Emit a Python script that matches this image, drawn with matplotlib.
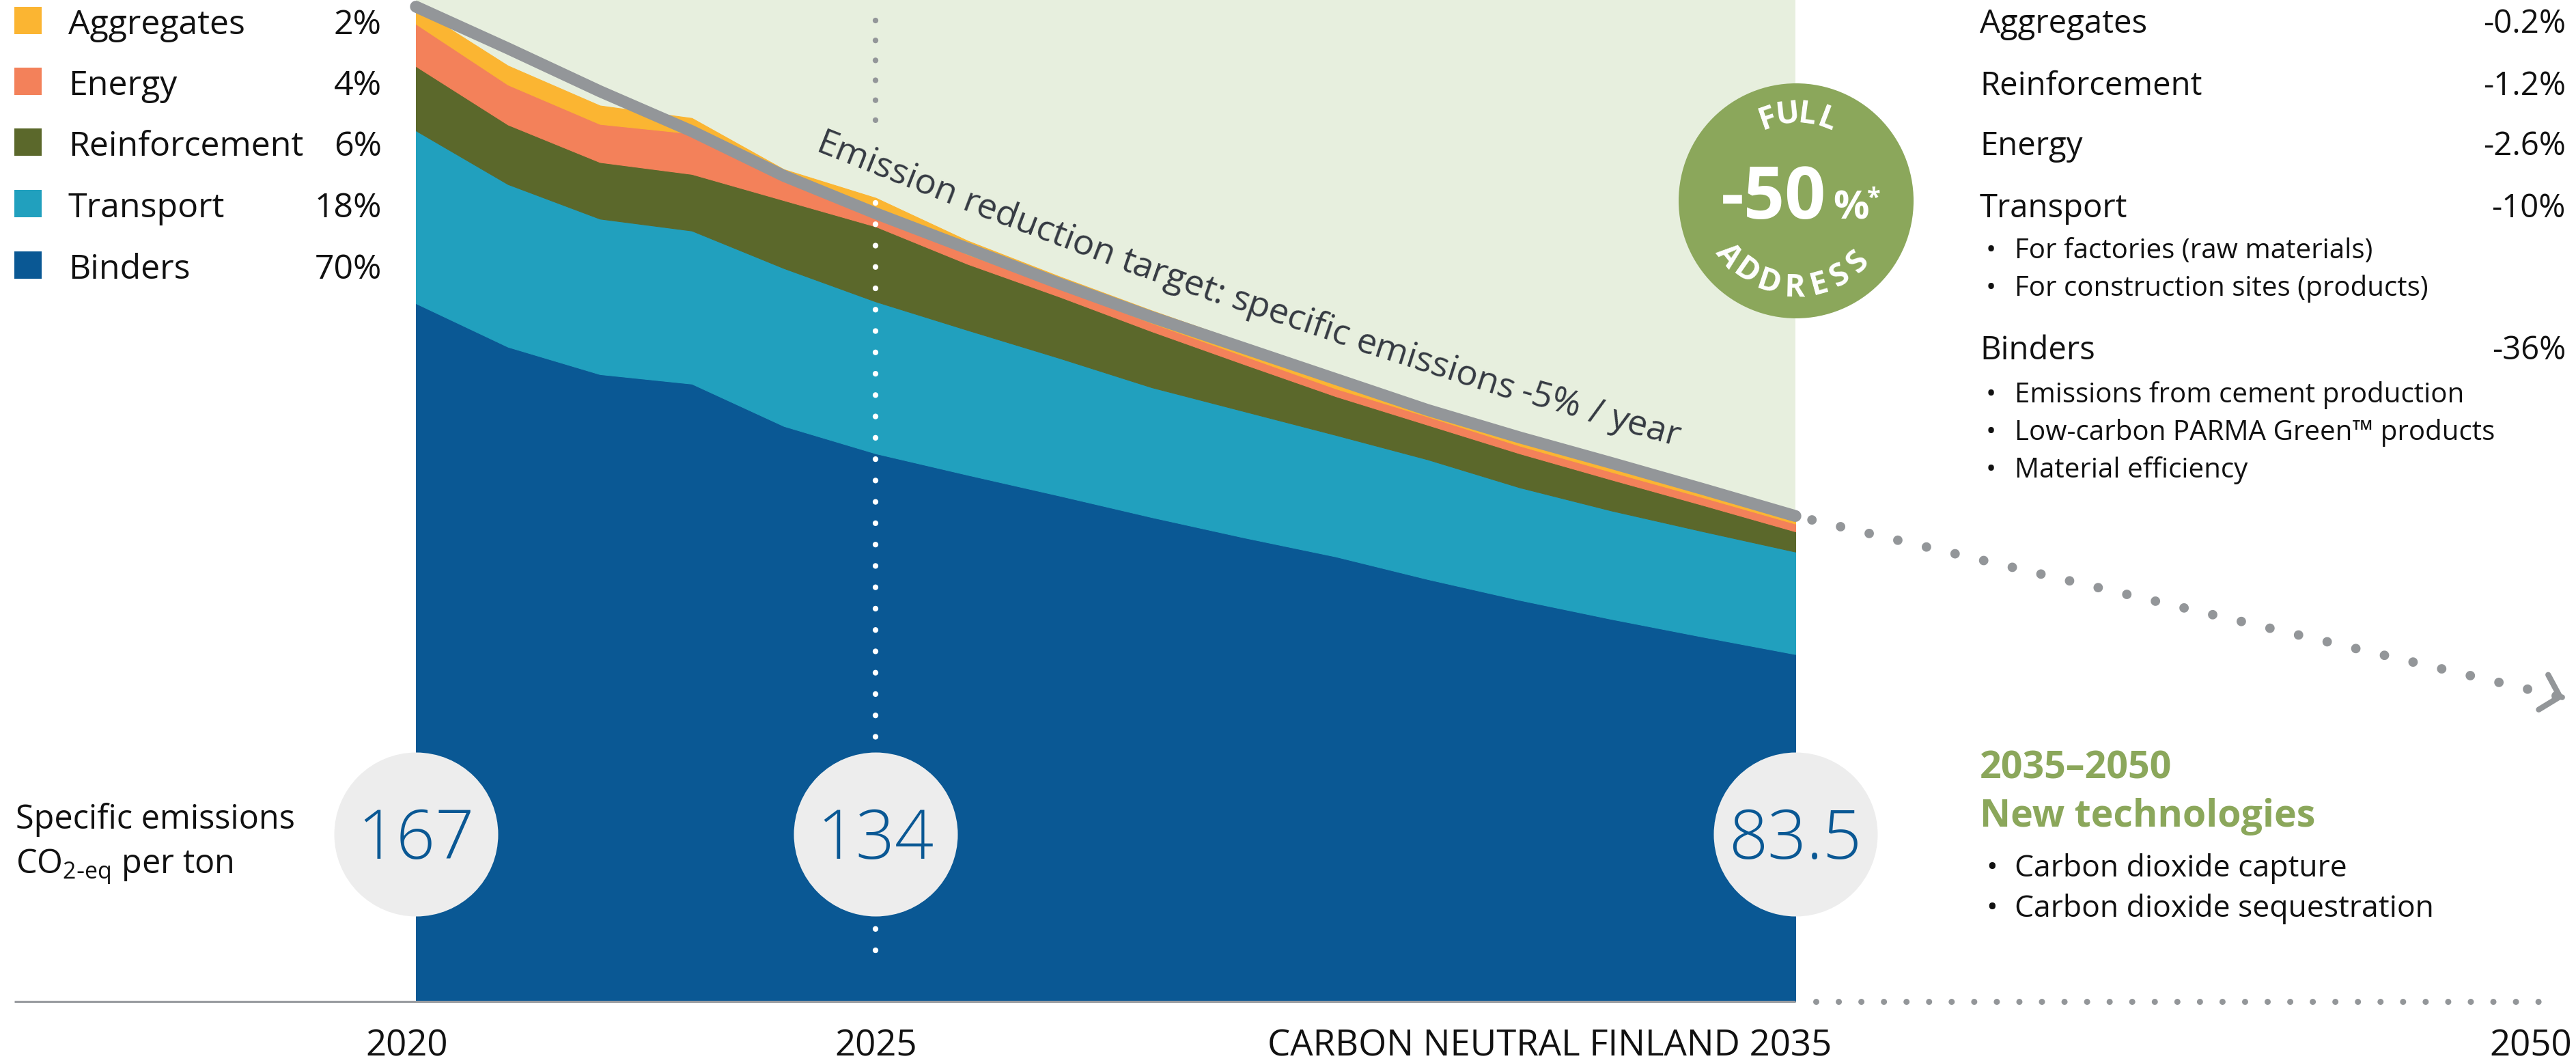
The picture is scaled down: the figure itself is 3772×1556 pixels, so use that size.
import numpy as np
import matplotlib
matplotlib.use("Agg")
import matplotlib.pyplot as plt
from matplotlib.patches import Circle, Rectangle
from matplotlib.transforms import IdentityTransform, blended_transform_factory

plt.rcParams["font.family"] = ["Open Sans", "DejaVu Sans"]

# ---------------- data ----------------
years = [2020, 2021, 2022, 2023, 2024, 2025, 2026, 2027,
         2028, 2029, 2030, 2031, 2032, 2033, 2034, 2035]
binders = [117.2, 109.9, 105.3, 103.7, 96.6, 92.0, 88.4, 84.9,
           81.3, 77.9, 74.7, 70.9, 67.4, 64.2, 61.2, 58.3]
transport = [29.0, 27.3, 26.1, 25.7, 26.5, 25.5, 24.3, 23.1,
             21.8, 21.2, 20.4, 20.1, 18.9, 18.2, 17.7, 17.2]
reinforcement = [10.8, 10.0, 9.5, 9.5, 11.4, 12.6, 11.1, 10.3,
                 9.4, 7.9, 6.5, 5.8, 5.7, 5.2, 4.4, 3.4]
energy = [7.1, 6.7, 6.4, 6.8, 3.7, 2.3, 1.6, 1.5,
          1.4, 1.4, 1.3, 1.4, 1.3, 1.3, 1.3, 1.3]
aggregates = [2.8, 3.2, 3.1, 2.6, 1.5, 2.5, 2.3, 1.9,
              2.1, 2.2, 2.4, 1.8, 1.8, 1.7, 1.7, 1.7]
target = [167.0, 160.0, 152.8, 146.1, 138.6, 132.3, 126.4, 120.5,
          114.9, 109.7, 104.5, 99.3, 94.7, 90.4, 86.0, 81.5]

ext_years = [2035, 2050]
ext_target = [81.5, 51.0]

milestone_years = [2020, 2025, 2035]
milestone_labels = ["167", "134", "83.5"]

legend_names = ["Aggregates", "Energy", "Reinforcement", "Transport", "Binders"]
legend_shares = ["2%", "4%", "6%", "18%", "70%"]

reduction_names = ["Aggregates", "Reinforcement", "Energy", "Transport", "Binders"]
reduction_values = ["-0.2%", "-1.2%", "-2.6%", "-10%", "-36%"]
transport_bullets = ["For factories (raw materials)",
                     "For construction sites (products)"]
binder_bullets = ["Emissions from cement production",
                  "Low-carbon PARMA Green\u2122 products",
                  "Material efficiency"]
tech_bullets = ["Carbon dioxide capture", "Carbon dioxide sequestration"]

target_label = "Emission reduction target: specific emissions -5% / year"

# ---------------- style ----------------
C_BIND = "#0A5894"
C_TRANS = "#21A0BE"
C_REINF = "#5B682B"
C_ENERGY = "#F3815A"
C_AGG = "#FBB532"
C_LINE = "#939699"
C_BG = "#E7EFDE"
C_BADGE = "#8BA75B"
C_DISC = "#EDEDED"
C_TEXT = "#111111"

W, H = 3773, 1556
BASE = 1466          # pixel row of the zero line
PPU = 8.72           # pixels per t CO2 unit

fig = plt.figure(figsize=(W / 100, H / 100), dpi=100)

ax = fig.add_axes([609 / W, (H - BASE) / H, (2629 - 609) / W, BASE / H])
ax.set_xlim(2020, 2035)
ax.set_ylim(0, BASE / PPU)
ax.set_facecolor(C_BG)
for s in ax.spines.values():
    s.set_visible(False)
ax.set_xticks([])
ax.set_yticks([])

ax_ext = fig.add_axes([2629 / W, (H - BASE) / H, (3754 - 2629) / W, BASE / H])
ax_ext.set_xlim(2035, 2050)
ax_ext.set_ylim(0, BASE / PPU)
ax_ext.axis("off")

ov = fig.add_axes([0, 0, 1, 1])
ov.set_xlim(0, W)
ov.set_ylim(H, 0)
ov.axis("off")

# stacked areas
layer_colors = [C_BIND, C_TRANS, C_REINF, C_ENERGY, C_AGG]
polys = ax.stackplot(years, binders, transport, reinforcement, energy, aggregates,
                     colors=layer_colors, zorder=2)
for p, c in zip(polys, layer_colors):
    p.set_edgecolor(c)
    p.set_linewidth(0.8)

# dotted marker at 2025
ax.plot([2025, 2025], [164.7, 144.9], color=C_LINE, lw=6,
        linestyle=(0, (0.001, 3.5)), dash_capstyle="round", zorder=3, clip_on=False)
ax.plot([2025, 2025], [134.1, 6.0], color="white", lw=6,
        linestyle=(0, (0.001, 3.75)), dash_capstyle="round", zorder=3)

# target line
ax.plot(years, target, color=C_LINE, lw=12.5, solid_capstyle="round",
        zorder=5, clip_on=False)

# extension to 2050
ax_ext.plot(ext_years, ext_target, color=C_LINE, lw=10,
            linestyle=(1.31, (0.001, 3.1)), dash_capstyle="round", clip_on=False)
ax_ext.annotate("", xy=(ext_years[1], ext_target[1]),
                xytext=(ext_years[1] - 0.03, ext_target[1] + 0.07),
                arrowprops=dict(arrowstyle="->,head_length=0.9,head_width=0.95",
                                color=C_LINE, lw=6, mutation_scale=20,
                                shrinkA=0, shrinkB=0, capstyle="round",
                                joinstyle="round"),
                annotation_clip=False)
ax_ext.plot([2035.4, 2049.8], [0, 0], color=C_LINE, lw=6.5,
            linestyle=(0, (0.001, 3.66)), dash_capstyle="round", clip_on=False)

# solid zero line
ov.plot([21, 2629], [BASE, BASE], color="#9A9DA1", lw=2.3, solid_capstyle="butt")

# milestone discs
disc_y = (BASE - 1221) / PPU
ax.scatter(milestone_years, [disc_y] * len(milestone_years), s=(240 * 0.72) ** 2,
           color=C_DISC, linewidths=0, zorder=8, clip_on=False)
for yr, lab in zip(milestone_years, milestone_labels):
    ax.annotate(lab, (yr, disc_y), xytext=(0, -26), textcoords="offset points",
                ha="center", va="baseline", fontsize=72, fontweight="light",
                color=C_BIND, zorder=9, annotation_clip=False)

# year labels
yrtrans = blended_transform_factory(ax.transData, ov.transData)
ax.text(2019.9, 1545, "2020", transform=yrtrans, ha="center", va="baseline",
        fontsize=38, color=C_TEXT, clip_on=False)
ax.text(2025, 1545, "2025", transform=yrtrans, ha="center", va="baseline",
        fontsize=38, color=C_TEXT, clip_on=False)
ov.text(2682, 1545, "CARBON NEUTRAL FINLAND 2035", ha="right", va="baseline",
        fontsize=38, color=C_TEXT)
ov.text(3766, 1545, "2050", ha="right", va="baseline", fontsize=38, color=C_TEXT)

# left texts
ov.text(23, 1213, "Specific emissions", ha="left", va="baseline",
        fontsize=35, color=C_TEXT)
ov.text(23, 1278, r"CO$_{\mathregular{2\text{-}eq}}$ per ton", ha="left",
        va="baseline", fontsize=35, color=C_TEXT)

# left legend
leg_base = [50, 139, 228, 318, 408]
leg_colors = [C_AGG, C_ENERGY, C_REINF, C_TRANS, C_BIND]
for b, name, share, c in zip(leg_base, legend_names, legend_shares, leg_colors):
    ov.add_patch(Rectangle((21, b - 40), 40, 40, color=c, lw=0))
    ov.text(100, b, name, ha="left", va="baseline", fontsize=36, color=C_TEXT)
    ov.text(559, b, share, ha="right", va="baseline", fontsize=36, color=C_TEXT)

# right block
red_base = [48, 139, 227, 318, 526]
for b, name, val in zip(red_base, reduction_names, reduction_values):
    ov.text(2899, b, name, ha="left", va="baseline", fontsize=34, color=C_TEXT)
    ov.text(3757, b, val, ha="right", va="baseline", fontsize=34, color=C_TEXT)
for b, t in zip([378, 433], transport_bullets):
    ov.text(2908, b, "\u2022", ha="left", va="baseline", fontsize=29, color=C_TEXT)
    ov.text(2950, b, t, ha="left", va="baseline", fontsize=29, color=C_TEXT)
for b, t in zip([589, 644, 699], binder_bullets):
    ov.text(2908, b, "\u2022", ha="left", va="baseline", fontsize=29, color=C_TEXT)
    ov.text(2950, b, t, ha="left", va="baseline", fontsize=29, color=C_TEXT)

ov.text(2899, 1140, "2035\u20132050", ha="left", va="baseline", fontsize=40,
        fontweight="bold", color=C_BADGE)
ov.text(2899, 1210, "New technologies", ha="left", va="baseline", fontsize=40,
        fontweight="bold", color=C_BADGE)
for b, t in zip([1283, 1342], tech_bullets):
    ov.text(2908, b, "\u2022", ha="left", va="baseline", fontsize=32, color=C_TEXT)
    ov.text(2950, b, t, ha="left", va="baseline", fontsize=32, color=C_TEXT)

# badge
bx, by, br = 2630, 294, 172
ov.add_patch(Circle((bx, by), br, color=C_BADGE, lw=0))
ov.text(2597, 320, "-50", ha="center", va="baseline", fontsize=76,
        fontweight="bold", color="white")
ov.text(2684, 320, "%", ha="left", va="baseline", fontsize=42,
        fontweight="bold", color="white")
ov.text(2734, 300, "*", ha="left", va="baseline", fontsize=26,
        fontweight="bold", color="white")
for ch, th in zip("FULL", [109, 96, 82.5, 69]):
    a = np.radians(th)
    ov.text(bx + 114 * np.cos(a), by - 114 * np.sin(a), ch, rotation=th - 90,
            rotation_mode="anchor", ha="center", va="baseline", fontsize=33,
            fontweight="bold", color="white")
for ch, th in zip("ADDRESS", [219, 235, 251.5, 269, 285.5, 300.5, 315.5]):
    a = np.radians(th)
    ov.text(bx + 140 * np.cos(a), by - 140 * np.sin(a), ch, rotation=th - 270,
            rotation_mode="anchor", ha="center", va="baseline", fontsize=33,
            fontweight="bold", color="white")

# label that follows the target line
renderer = fig.canvas.get_renderer()
pts = ax.transData.transform(np.column_stack([years, target]))
seg = np.diff(pts, axis=0)
seglen = np.hypot(seg[:, 0], seg[:, 1])
cum = np.concatenate([[0], np.cumsum(seglen)])


def point_at(s):
    i = int(np.clip(np.searchsorted(cum, s) - 1, 0, len(seglen) - 1))
    t = (s - cum[i]) / seglen[i]
    return pts[i] + t * seg[i]


def text_width(t, fs):
    tt = fig.text(0, 0, t, fontsize=fs)
    w = tt.get_window_extent(renderer).width
    tt.remove()
    return w


fs_lab = 37.5
space = text_width("a a", fs_lab) - text_width("aa", fs_lab)
s = np.interp(ax.transData.transform((2024.2, 0))[0], pts[:, 0], cum)
for word in target_label.split(" "):
    w = text_width(word, fs_lab)
    p0, p1 = point_at(s), point_at(s + w)
    ang = np.arctan2(p1[1] - p0[1], p1[0] - p0[0])
    nrm = np.array([-np.sin(ang), np.cos(ang)])
    c = (p0 + p1) / 2 + nrm * 50
    fig.text(c[0], c[1], word, transform=IdentityTransform(),
             rotation=np.degrees(ang), rotation_mode="anchor", ha="center",
             va="baseline", fontsize=fs_lab, color="#353A42")
    s += w + space

fig.savefig("out.png", dpi=100)
